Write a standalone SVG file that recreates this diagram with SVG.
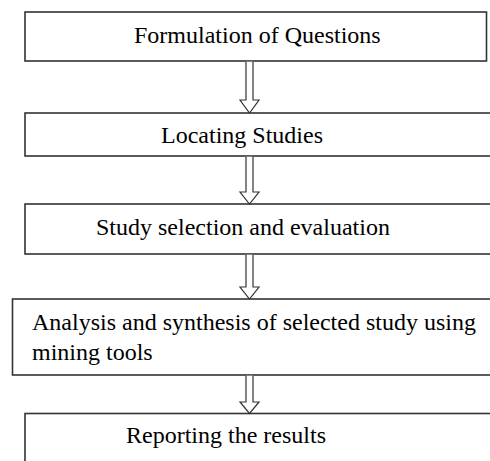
<svg xmlns="http://www.w3.org/2000/svg" width="490" height="461" viewBox="0 0 490 461">
<style>
.box{fill:#fff;stroke:#333;stroke-width:1.6}
.arr{fill:#fff;stroke:#333;stroke-width:1.2;stroke-linejoin:miter}
text{font-family:"Liberation Serif","Times New Roman",serif;font-size:24px;fill:#000}
</style>
<rect width="490" height="461" fill="#fff"/>
<g id="n1"><rect class="box" x="25" y="12" width="461.5" height="49"/><text x="134" y="43">Formulation of Questions</text></g>
<g id="n2"><rect class="box" x="25" y="113" width="470" height="43"/><text x="161" y="143">Locating Studies</text></g>
<g id="n3"><rect class="box" x="25" y="204" width="470" height="50"/><text x="96" y="235">Study selection and evaluation</text></g>
<g id="n4"><rect class="box" x="12.5" y="299" width="480" height="76"/><text x="32" y="330">Analysis and synthesis of selected study using</text><text x="32" y="360">mining tools</text></g>
<g id="n5"><rect class="box" x="25" y="413.5" width="470" height="60"/><text x="126" y="443">Reporting the results</text></g>
<g id="connectors">
<path class="arr" d="M246,61.8 V100 H240 L249.5,113 L259,100 H253 V61.8"/>
<path class="arr" d="M246,156.8 V192 H240 L249.5,204 L259,192 H253 V156.8"/>
<path class="arr" d="M246,254.8 V287 H240 L249.5,299 L259,287 H253 V254.8"/>
<path class="arr" d="M246,375.8 V402 H240 L249.5,413.5 L259,402 H253 V375.8"/>
</g>
</svg>
